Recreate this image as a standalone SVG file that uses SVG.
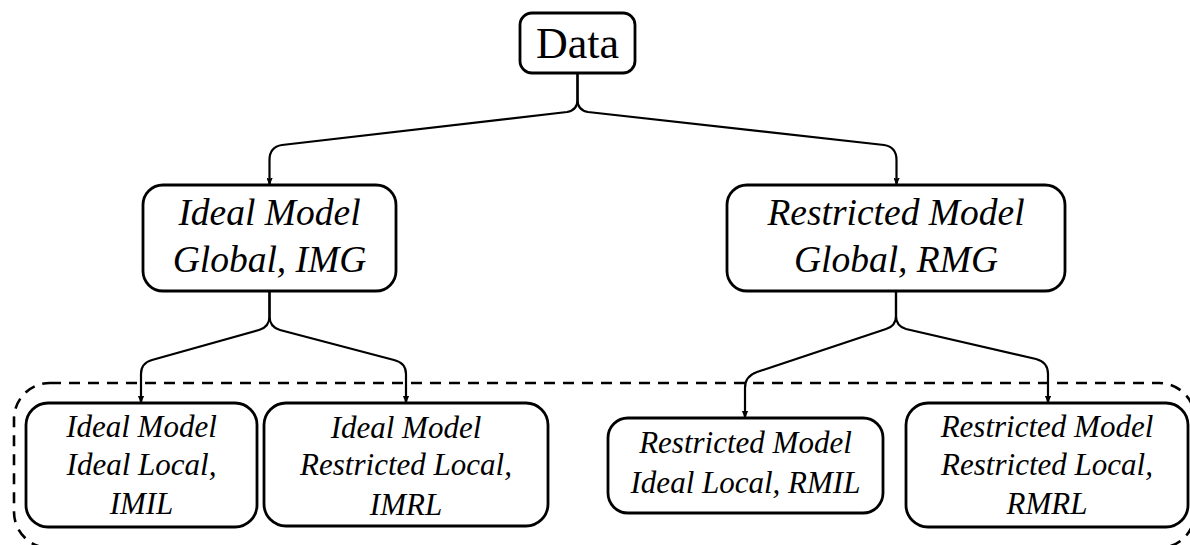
<svg xmlns="http://www.w3.org/2000/svg" width="1190" height="545" viewBox="0 0 1190 545">
<style>
.box{fill:#fff;stroke:#000;stroke-width:2.8}
.t{font-family:"Liberation Serif","Times New Roman",serif;font-style:italic;fill:#000;text-anchor:middle}
.big{font-size:37.5px}
.sm{font-size:31px}
.edge{fill:none;stroke:#000;stroke-width:2.2}
.group{fill:none;stroke:#000;stroke-width:2.6;stroke-dasharray:11 8}
</style>
<defs>
<marker id="arr" markerUnits="userSpaceOnUse" markerWidth="12" markerHeight="14" viewBox="-6 -11 12 14" refX="0" refY="0" orient="auto-start-reverse">
<path d="M-3.8,-9 Q-0.8,-4 0,0 Q0.8,-4 3.8,-9" fill="none" stroke="#000" stroke-width="1.8" transform="rotate(-90)"/>
</marker>
</defs>
<rect width="1190" height="545" fill="#fff"/>
<rect id="local-group" class="group" x="14" y="383" width="1181" height="165" rx="36"/>
<g id="data">
<rect class="box" x="520" y="13" width="115" height="60" rx="12"/>
<text x="577.5" y="58" font-family="Liberation Serif, Times New Roman, serif" font-size="44" text-anchor="middle">Data</text>
</g>
<g id="img">
<rect class="box" x="143" y="185" width="253" height="106" rx="20"/>
<text class="t big" x="269.5" y="225">Ideal Model</text>
<text class="t big" x="269.5" y="272">Global, IMG</text>
</g>
<g id="rmg">
<rect class="box" x="727" y="185" width="338" height="106" rx="20"/>
<text class="t big" x="896" y="225">Restricted Model</text>
<text class="t big" x="896" y="272">Global, RMG</text>
</g>
<g id="imil">
<rect class="box" x="26" y="403" width="231" height="124" rx="22"/>
<text class="t sm" x="141.5" y="437">Ideal Model</text>
<text class="t sm" x="141.5" y="475">Ideal Local,</text>
<text class="t sm" x="141.5" y="514">IMIL</text>
</g>
<g id="imrl">
<rect class="box" x="264" y="403" width="284" height="123" rx="22"/>
<text class="t sm" x="406" y="438">Ideal Model</text>
<text class="t sm" x="406" y="475">Restricted Local,</text>
<text class="t sm" x="406" y="515">IMRL</text>
</g>
<g id="rmil">
<rect class="box" x="608" y="418" width="275" height="95" rx="20"/>
<text class="t sm" x="745.5" y="453">Restricted Model</text>
<text class="t sm" x="745.5" y="493">Ideal Local, RMIL</text>
</g>
<g id="rmrl">
<rect class="box" x="906" y="403" width="282" height="124" rx="22"/>
<text class="t sm" x="1047" y="437">Restricted Model</text>
<text class="t sm" x="1047" y="475">Restricted Local,</text>
<text class="t sm" x="1047" y="514">RMRL</text>
</g>
<g id="connectors">
<path class="edge" marker-end="url(#arr)" d="M577.5,73 V100 Q577.5,110 567,112 L282,145 Q269.5,147 269.5,160 V184"/>
<path class="edge" marker-end="url(#arr)" d="M577.5,73 V100 Q577.5,110 588,112 L884,145 Q896.5,147 896.5,160 V184"/>
<path class="edge" marker-end="url(#arr)" d="M269.5,291 V316 Q269.5,327 259,330 L152,360 Q141,363 141,374 V402"/>
<path class="edge" marker-end="url(#arr)" d="M269.5,291 V316 Q269.5,327 280,330 L394,360 Q406,363 406,374 V402"/>
<path class="edge" marker-end="url(#arr)" d="M896,291 V316 Q896,326 886,329 L757,372 Q745,376 745,388 V417"/>
<path class="edge" marker-end="url(#arr)" d="M896,291 V316 Q896,326 906,329 L1036,359 Q1048,362 1048,374 V402"/>
</g>
</svg>
